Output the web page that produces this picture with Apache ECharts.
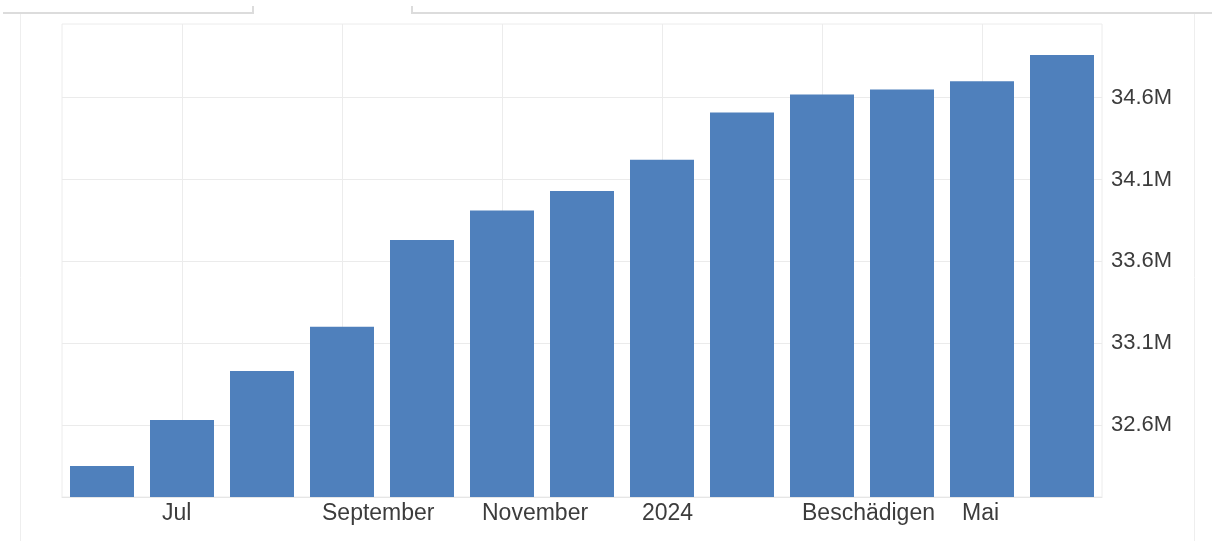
<!DOCTYPE html>
<html>
<head>
<meta charset="utf-8">
<script src="https://cdn.jsdelivr.net/npm/echarts@6/dist/echarts.min.js"></script>
<style>
  html, body { margin: 0; padding: 0; background: #fff; }
  #chart { width: 1212px; height: 541px; }
</style>
</head>
<body>
<div id="chart"></div>
<script>
// months Jun 2023 .. Jun 2024 (labels as in the picture)
const categories = ['Jun', 'Jul', 'Aug', 'September', 'Okt', 'November', 'Dez', '2024', 'Feb', 'Beschädigen', 'Apr', 'Mai', 'Jun'];
// values in millions
const values = [32.35, 32.63, 32.93, 33.2, 33.73, 33.91, 34.03, 34.22, 34.51, 34.62, 34.65, 34.7, 34.86];
const yTicks = [32.6, 33.1, 33.6, 34.1, 34.6];

const chart = echarts.init(document.getElementById('chart'));

// only every second month gets a label / vertical grid line
const showEveryOther = (index) => index % 2 === 1;

const frameLine = { stroke: '#dcdcdc', lineWidth: 2 };
const thinLine = { stroke: '#eeeeee', lineWidth: 1 };

chart.setOption({
  animation: false,
  textStyle: { fontFamily: 'Liberation Sans, Arial, sans-serif' },
  grid: {
    left: 62,
    right: 110,
    top: 24,
    bottom: 44,
    show: true,
    borderColor: '#ececec',
    borderWidth: 1,
  },
  xAxis: {
    type: 'category',
    data: categories,
    axisLine: { lineStyle: { color: '#e6e6e6' } },
    axisTick: { show: false },
    axisLabel: {
      interval: showEveryOther,
      color: '#3c3c3c',
      fontSize: 23,
      align: 'left',
      padding: [0, 0, 0, -20],
      margin: 5,
    },
    splitLine: {
      show: true,
      interval: showEveryOther,
      alignWithLabel: true,
      lineStyle: { color: '#ececec' },
    },
  },
  yAxis: {
    type: 'value',
    position: 'right',
    min: 32.16,
    max: 35.05,
    axisLine: { show: false },
    axisTick: { show: false, customValues: yTicks },
    axisLabel: {
      customValues: yTicks,
      color: '#3c3c3c',
      fontSize: 22,
      margin: 9,
      formatter: (v) => v.toFixed(1) + 'M',
    },
    splitLine: { show: true, lineStyle: { color: '#ebebeb' } },
  },
  series: [
    {
      type: 'bar',
      data: values,
      barCategoryGap: '20%',
      itemStyle: { color: '#4f80bc' },
    },
  ],
  graphic: [
    { type: 'polyline', shape: { points: [[3, 13], [253, 13], [253, 6]] }, style: frameLine, silent: true },
    { type: 'polyline', shape: { points: [[412, 6], [412, 13], [1212, 13]] }, style: frameLine, silent: true },
    { type: 'line', shape: { x1: 20.5, y1: 14, x2: 20.5, y2: 541 }, style: thinLine, silent: true },
    { type: 'line', shape: { x1: 1194.5, y1: 14, x2: 1194.5, y2: 541 }, style: thinLine, silent: true },
  ],
});

window.addEventListener('resize', () => {
  chart.resize();
});
</script>
</body>
</html>
